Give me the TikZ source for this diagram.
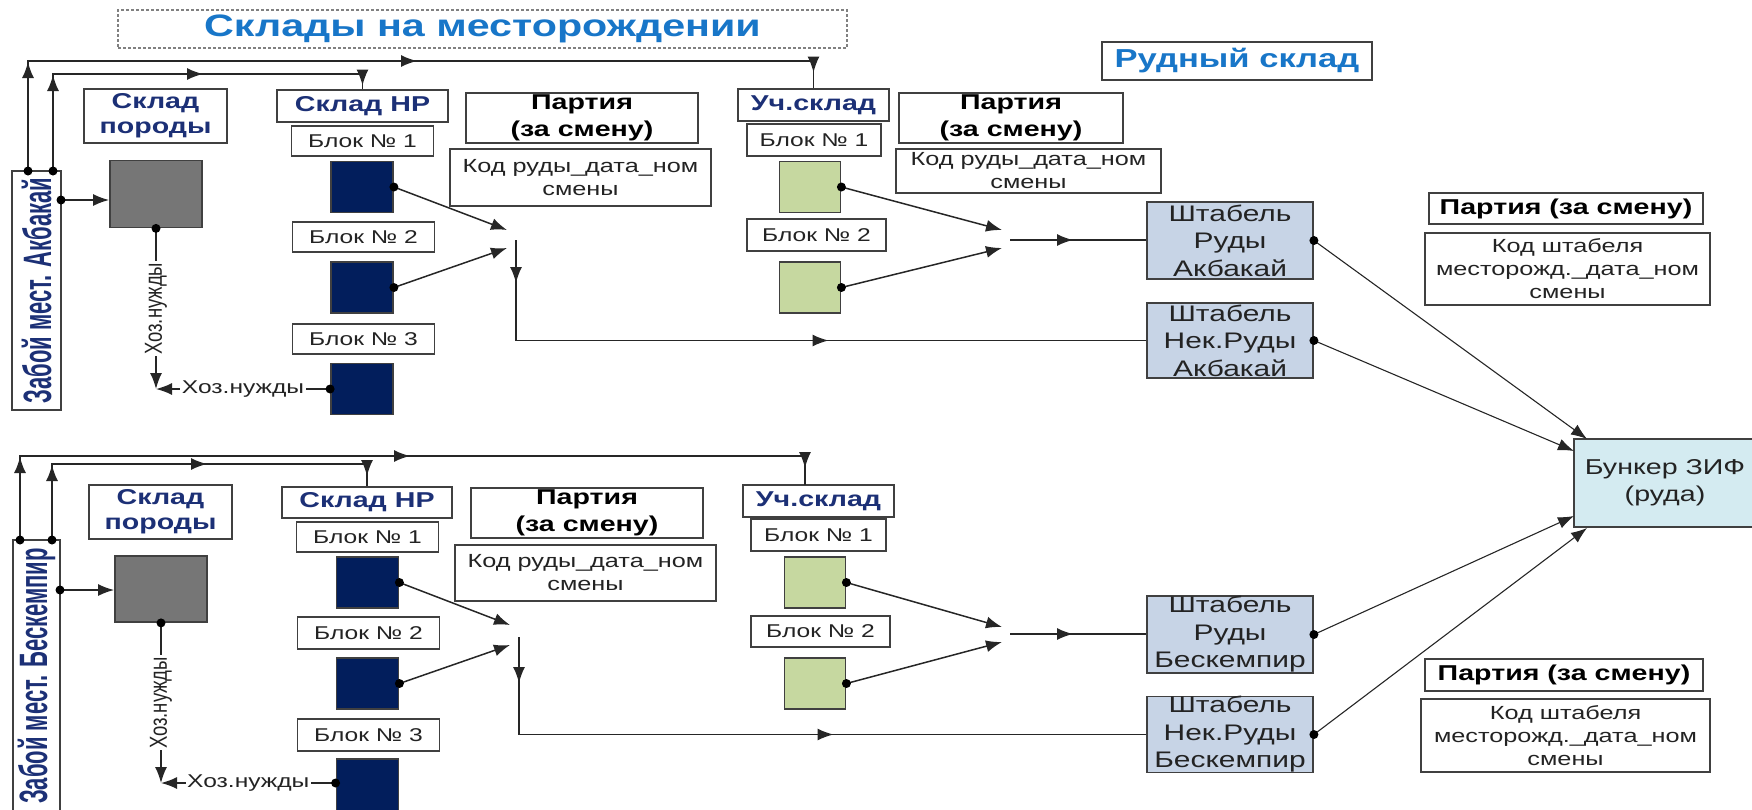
\documentclass[tikz,border=0pt]{standalone}
\usepackage{fontspec}
\usepackage{graphicx}
\setmainfont{Liberation Sans}[FakeStretch=1.33]
\newfontfamily\uprightfont{Liberation Sans}
\usetikzlibrary{arrows.meta,decorations.markings}

\definecolor{labelblue}{RGB}{28,48,118}
\definecolor{titleblue}{RGB}{24,118,200}
\definecolor{navyblk}{RGB}{2,30,92}
\definecolor{rockgray}{RGB}{118,118,118}
\definecolor{uchgreen}{RGB}{198,216,160}
\definecolor{stackblue}{RGB}{199,212,230}
\definecolor{bunkercyan}{RGB}{212,235,241}
\definecolor{boxgray}{RGB}{64,64,64}
\definecolor{txtgray}{RGB}{35,35,35}

% text standing on its side (height widened like the rest)
\newcommand\upward[2][1.33]{\scalebox{1}[#1]{\uprightfont #2}}

\begin{document}
\begin{tikzpicture}[x=1pt,y=-1pt,>={Latex[length=16pt,width=12pt]},
  box/.style={draw=boxgray,line width=1.8pt,fill=white,inner sep=0pt,align=center,text=txtgray},
  head/.style={box,font=\bfseries\fontsize{21.5}{25}\selectfont,text=labelblue},
  blocklbl/.style={box,minimum width=142pt,minimum height=30pt,font=\fontsize{18.5}{22}\selectfont},
  navy/.style={draw=boxgray,line width=1.8pt,fill=navyblk,minimum width=62pt,minimum height=51pt,inner sep=0pt},
  uchblk/.style={navy,fill=uchgreen,minimum width=61pt},
  rock/.style={navy,fill=rockgray,minimum width=92pt,minimum height=67pt},
  party/.style={box,font=\bfseries\fontsize{21.5}{27}\selectfont,text=black},
  code/.style={box,font=\fontsize{19}{23}\selectfont},
  stack/.style={box,fill=stackblue,minimum width=166pt,font=\fontsize{22.5}{27.5}\selectfont},
  face/.style={box,rotate=90,font=\fontsize{22}{26}\selectfont},
  wire/.style={draw=black!85,line width=1.5pt},
  am/.style={postaction={decorate,decoration={markings,mark=at position #1 with {\arrow{Latex[length=16pt,width=12pt]}}}}},
  needs/.style={fill=white,inner sep=1.5pt,font=\fontsize{18.5}{22}\selectfont,text=txtgray}]

\useasboundingbox (0,0) rectangle (1752,809);

% headings
\node[draw=gray,densely dashed,line width=1.3pt,inner sep=0pt,minimum width=729pt,minimum height=38pt,
  font=\bfseries\fontsize{31}{36}\selectfont,text=titleblue] (title) at (482.5,29) {Склады на месторождении};
\node[box,minimum width=270pt,minimum height=38pt,font=\bfseries\fontsize{26}{30}\selectfont,text=titleblue]
  (rud) at (1237,61) {Рудный склад};

% ---- Akbakai ----
\node[face,minimum width=239pt,minimum height=49pt] (zab1) at (36.5,290.5) {\upward[1.8]{\bfseries\color{labelblue}Забой мест. Акбакай}};
\node[head,minimum width=143pt,minimum height=54pt] (por1lbl) at (155.5,116) {Склад\\породы};
\node[rock] (por1) at (156,194) {};
\node[head,minimum width=171pt,minimum height=32pt] (nr1lbl) at (362.5,106) {Склад НР};
\node[blocklbl] (nr1b1lbl) at (362.5,141) {Блок № 1};
\node[navy] (nr1b1) at (362,187) {};
\node[blocklbl] (nr1b2lbl) at (363.5,237) {Блок № 2};
\node[navy] (nr1b2) at (362,287.5) {};
\node[blocklbl] (nr1b3lbl) at (363.5,339) {Блок № 3};
\node[navy] (nr1b3) at (362,389) {};
\node[party,minimum width=232pt,minimum height=50pt] (part1) at (582,118) {Партия\\(за смену)};
\node[code,minimum width=261pt,minimum height=57pt] (kod1) at (580.5,177.5) {Код руды\_дата\_ном\\смены};
\node[head,minimum width=151pt,minimum height=32pt] (uch1lbl) at (813.5,105) {Уч.склад};
\node[blocklbl,minimum width=134pt,minimum height=32pt] (uch1b1lbl) at (814,140) {Блок № 1};
\node[uchblk] (uch1b1) at (810,187) {};
\node[blocklbl,minimum width=139pt,minimum height=32pt] (uch1b2lbl) at (816.5,235) {Блок № 2};
\node[uchblk] (uch1b2) at (810,287.5) {};
\node[party,minimum width=224pt,minimum height=50pt] (part2) at (1011,118) {Партия\\(за смену)};
\node[code,minimum width=265pt,minimum height=44pt] (kod2) at (1028.5,171) {Код руды\_дата\_ном\\смены};
\node[stack,minimum height=77pt] (sh1) at (1230,240.5) {Штабель\\Руды\\Акбакай};
\node[stack,minimum height=75pt] (nek1) at (1230,340.5) {Штабель\\Нек.Руды\\Акбакай};
\node[party,minimum width=274pt,minimum height=31pt] (part3) at (1566,208.5) {Партия (за смену)};
\node[code,minimum width=285pt,minimum height=72pt] (kod3) at (1567.5,269) {Код штабеля\\месторожд.\_дата\_ном\\смены};

\node[box,fill=bunkercyan,minimum width=182pt,minimum height=88pt,font=\fontsize{21.5}{27}\selectfont]
  (bunker) at (1665,483) {Бункер ЗИФ\\(руда)};

% ---- Beskempir ----
\node[face,minimum width=272pt,minimum height=47pt] (zab2) at (36.5,676) {\upward[1.8]{\bfseries\color{labelblue}Забой мест. Бескемпир}};
\node[head,minimum width=143pt,minimum height=54pt] (por2lbl) at (160.5,512) {Склад\\породы};
\node[rock,minimum height=66pt] (por2) at (161,589) {};
\node[head,minimum width=170pt,minimum height=31pt] (nr2lbl) at (367,502.5) {Склад НР};
\node[blocklbl] (nr2b1lbl) at (367.5,537) {Блок № 1};
\node[navy] (nr2b1) at (367.5,582.5) {};
\node[blocklbl,minimum height=32pt] (nr2b2lbl) at (368.5,633) {Блок № 2};
\node[navy] (nr2b2) at (367.5,683.5) {};
\node[blocklbl,minimum height=32pt] (nr2b3lbl) at (368.5,735) {Блок № 3};
\node[navy,minimum height=54pt] (nr2b3) at (367.5,786) {};
\node[party,minimum width=232pt,minimum height=50pt] (part4) at (587,513) {Партия\\(за смену)};
\node[code,minimum width=261pt,minimum height=56pt] (kod4) at (585.5,573) {Код руды\_дата\_ном\\смены};
\node[head,minimum width=151pt,minimum height=32pt] (uch2lbl) at (818.5,501) {Уч.склад};
\node[blocklbl,minimum width=135pt,minimum height=32pt] (uch2b1lbl) at (818.5,535) {Блок № 1};
\node[uchblk] (uch2b1) at (815,582.5) {};
\node[blocklbl,minimum width=139pt,minimum height=31pt] (uch2b2lbl) at (820.5,631.5) {Блок № 2};
\node[uchblk] (uch2b2) at (815,683.5) {};
\node[stack,minimum height=77pt] (sh2) at (1230,634.5) {Штабель\\Руды\\Бескемпир};
\node[stack,minimum height=73pt] (nek2) at (1230,734.5) {Штабель\\Нек.Руды\\Бескемпир};
\node[party,minimum width=278pt,minimum height=32pt] (part5) at (1564,675) {Партия (за смену)};
\node[code,minimum width=289pt,minimum height=73pt] (kod5) at (1565.5,735.5) {Код штабеля\\месторожд.\_дата\_ном\\смены};

% bends and free ends
\coordinate (z1a) at (28,171);   \coordinate (bus1a) at (28,61);
\coordinate (z1b) at (53,171);   \coordinate (bus1b) at (53,74);
\coordinate (z1c) at (61,200);
\coordinate (j1a) at (507,230);  \coordinate (j1b) at (507,248);  \coordinate (j1c) at (516,240);
\coordinate (j2a) at (1002,230); \coordinate (j2b) at (1002,248); \coordinate (j2c) at (1010,240);
\coordinate (z2a) at (20,540);   \coordinate (bus2a) at (20,456);
\coordinate (z2b) at (52,540);   \coordinate (bus2b) at (52,464);
\coordinate (z2c) at (60,590);   \coordinate (uch2in) at (805,485);
\coordinate (j3a) at (510,625);  \coordinate (j3b) at (510,645);  \coordinate (j3c) at (519,637);
\coordinate (j4a) at (1002,627); \coordinate (j4b) at (1002,642); \coordinate (j4c) at (1010,634);
\coordinate (bk1) at (1587,439); \coordinate (bk2) at (1574,451);
\coordinate (bk3) at (1574,516); \coordinate (bk4) at (1587,528);

% Akbakai flows
\path [wire,am=109pt,am=499pt,am=907pt] (z1a) -- (bus1a) -| (uch1lbl.north);
\path [wire,am=96pt,am=247pt,am=418pt] (z1b) -- (bus1b) -| (nr1lbl.north);
\draw [wire,->] (z1c) -- (z1c -| por1.west);
\draw [wire,->] (por1.south) -- (por1.south |- nr1b3.west)
  node[needs,midway,rotate=90] {\upward{Хоз.нужды}};
\draw [wire,->] (nr1b3.west) -- (por1.south |- nr1b3.west) node[needs,midway] {Хоз.нужды};
\draw [wire,->] (nr1b1.east) -- (j1a);
\draw [wire,->] (nr1b2.east) -- (j1b);
\path [wire,am=43pt,am=413pt] (j1c) |- (nek1.west);
\draw [wire,->] (uch1b1.east) -- (j2a);
\draw [wire,->] (uch1b2.east) -- (j2b);
\path [wire,am=63pt] (j2c) -- (j2c -| sh1.west);
\draw [wire,->,line width=1.1pt] (sh1.east) -- (bk1);
\draw [wire,->,line width=1.1pt] (nek1.east) -- (bk2);

% Beskempir flows
\path [wire,am=83pt,am=474pt,am=881pt] (z2a) -- (bus2a) -| (uch2in);
\path [wire,am=75pt,am=231pt,am=403pt] (z2b) -- (bus2b) -| (nr2lbl.north);
\draw [wire,->] (z2c) -- (z2c -| por2.west);
\draw [wire,->] (por2.south) -- (por2.south |- 0,783)
  node[needs,midway,rotate=90] {\upward{Хоз.нужды}};
\coordinate (hoz2) at (nr2b3.west |- 0,783);
\draw [wire,->] (hoz2) -- (por2.south |- hoz2) node[needs,midway] {Хоз.нужды};
\draw [wire,->] (nr2b1.east) -- (j3a);
\draw [wire,->] (nr2b2.east) -- (j3b);
\path [wire,am=46pt,am=412pt] (j3c) |- (nek2.west);
\draw [wire,->] (uch2b1.east) -- (j4a);
\draw [wire,->] (uch2b2.east) -- (j4b);
\path [wire,am=63pt] (j4c) -- (j4c -| sh2.west);
\draw [wire,->,line width=1.1pt] (sh2.east) -- (bk3);
\draw [wire,->,line width=1.1pt] (nek2.east) -- (bk4);

% dots
\foreach \p in {z1a,z1b,z1c,por1.south,nr1b1.east,nr1b2.east,nr1b3.west,uch1b1.east,uch1b2.east,sh1.east,nek1.east,
  z2a,z2b,z2c,por2.south,nr2b1.east,nr2b2.east,hoz2,uch2b1.east,uch2b2.east,sh2.east,nek2.east}
  \fill (\p) circle (4.5pt);

\end{tikzpicture}
\end{document}
